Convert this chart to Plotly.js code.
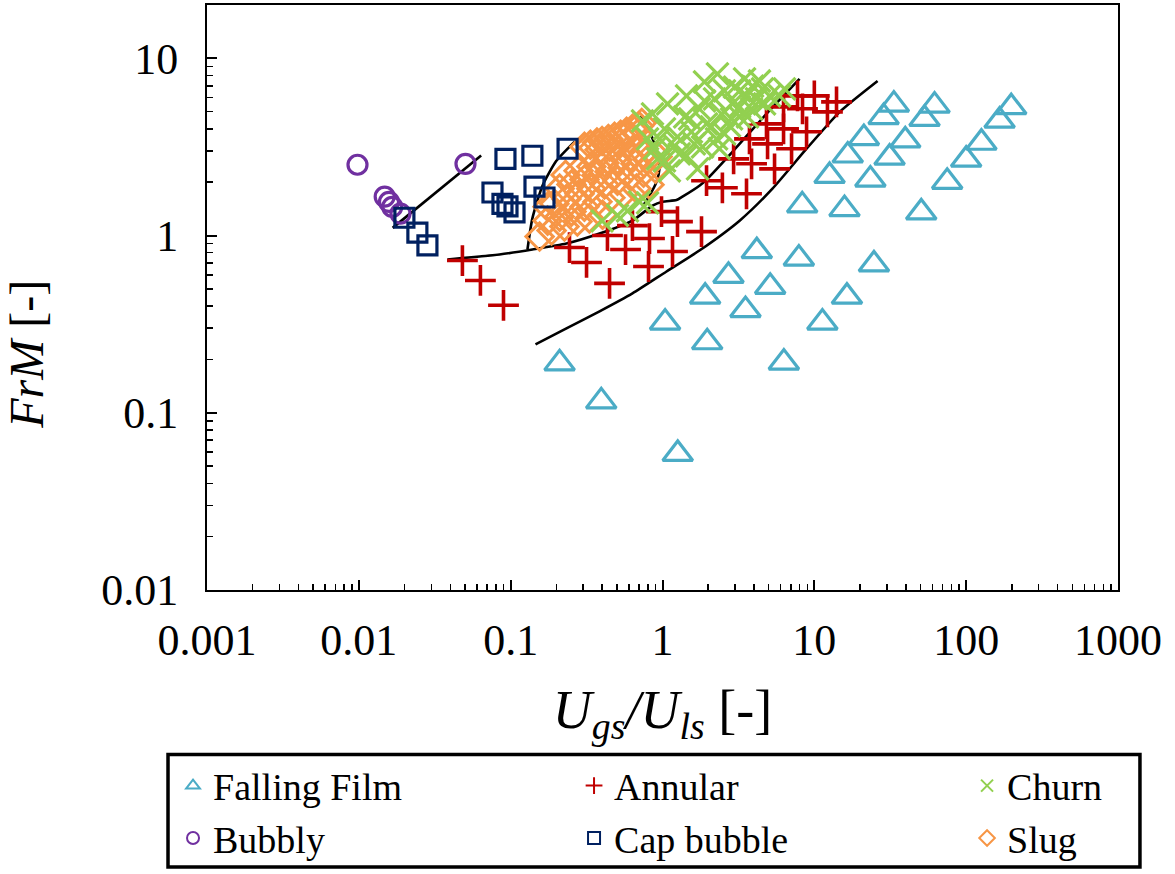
<!DOCTYPE html>
<html><head><meta charset="utf-8">
<script src="https://cdn.plot.ly/plotly-3.0.1.min.js"></script>
<style>html,body{margin:0;padding:0;background:#fff}#chart{width:1175px;height:874px}</style>
</head><body><div id="chart"></div>
<script>
// ---- data ----
const fallingFilmX = [0.21,0.395,1.26,1.04,1.91,1.97,2.72,4.18,3.52,5.12,6.30,7.91,11.3,16.4,24.7,33.4,28.6,61.9,53.2,198,166,21.2,39.7,16.6,31.3,12.6,23.4,8.32,15.8,50.6,75.0,100,126];
const fallingFilmY = [0.19,0.116,0.0586,0.323,0.452,0.250,0.593,0.816,0.380,0.514,0.192,0.742,0.323,0.452,0.687,5.48,4.66,5.41,4.55,5.30,4.45,3.55,3.44,2.83,2.75,2.17,2.07,1.48,1.41,1.35,2.01,2.68,3.34];

const annularX = [0.0481,0.0632,0.0897,0.244,0.316,0.448,0.434,0.571,0.634,0.821,0.809,0.985,1.255,1.164,1.807,1.95,2.48,3.575,2.94,3.86,5.47,3.74,4.92,7.08,4.84,6.27,8.89,6.27,8.36,12.2,7.75,10.0,14.0];
const annularY = [0.723,0.558,0.404,0.856,0.705,0.537,1.0,0.834,1.138,0.962,0.669,1.365,1.199,0.813,1.053,2.04,1.86,1.72,2.71,2.54,2.38,3.51,3.29,3.09,4.27,4.0,3.85,5.32,5.19,4.99,6.14,6.14,5.68];

const churnX = [0.738,0.859,1.08,1.44,1.89,2.30,2.89,3.22,3.58,3.92,4.56,5.07,3.86,3.22,2.76,2.45,2.27,1.95,1.835,1.55,1.255,1.20,1.44,1.70,1.11,0.927,0.955,1.03,1.40,1.75,2.20,2.56,2.98,3.47,4.35,4.16,4.70,2.56,2.10,1.62,1.29,1.51,1.89,0.797,0.885,1.03,0.797,0.706,0.40,0.505,0.588,3.22,3.63,2.37,2.85,5.90,6.36];
const churnY = [4.44,4.86,5.53,6.14,7.36,8.16,5.53,6.55,6.14,6.98,6.72,6.14,5.18,4.67,4.16,4.86,3.51,4.27,3.17,3.85,3.61,3.21,2.82,2.38,2.32,2.71,3.51,4.00,4.67,5.18,5.90,6.55,6.89,7.65,7.45,5.90,5.53,3.75,4.10,3.29,2.89,4.55,5.75,3.51,3.09,2.64,1.53,1.55,1.21,1.30,1.38,5.32,4.67,3.09,4.55,6.14,6.72];

const bubblyX = [0.0098,0.0148,0.0158,0.0166,0.0188,0.0504];
const bubblyY = [2.51,1.66,1.55,1.45,1.33,2.54];

const capX = [0.01996,0.0243,0.0283,0.0759,0.0883,0.0953,0.106,0.0924,0.139,0.237,0.1435,0.167];
const capY = [1.26,1.04,0.88,1.75,1.51,1.46,1.35,2.71,2.82,3.09,1.89,1.64];

const slugX = [0.306,0.335,0.37,0.40,0.44,0.483,0.53,0.58,0.635,0.70,0.73,0.33,0.385,0.448,0.52,0.606,0.685,
  0.155,0.186,0.226,0.275,0.330,0.403,
  0.175,0.210,0.2515,0.306,0.373,0.454,0.553,0.674,0.821,
  0.194,0.233,0.284,0.340,0.415,0.505,0.616,0.750,0.90,
  0.210,0.2515,0.306,0.367,0.448,0.545,0.664,0.797,0.927,
  0.23,0.28,0.340,0.415,0.505,0.616,0.750,0.175];
const slugY = [3.17,3.25,3.35,3.42,3.51,3.61,3.70,3.85,4.0,4.15,4.32,2.97,3.05,3.17,3.29,3.51,3.75,
  0.987,1.067,1.124,1.199,1.25,1.31,
  1.214,1.279,1.365,1.456,1.553,1.636,1.72,1.84,1.936,
  1.51,1.61,1.72,1.84,1.94,2.04,2.15,2.26,2.38,
  1.84,1.94,2.07,2.18,2.29,2.41,2.54,2.68,2.79,
  2.20,2.32,2.45,2.57,2.68,2.79,2.89,1.456];

// regime boundary curves
const b1X = [0.0167,0.0639];
const b1Y = [1.105,2.83];
const b2X = [0.0383,0.0844,0.139,0.233,0.385,0.634,0.859,1.0,1.236,1.354,1.75,1.95,2.89,4.84,7.99];
const b2Y = [0.733,0.782,0.834,0.901,1.026,1.214,1.475,1.553,1.585,1.657,1.91,2.07,2.97,4.86,7.65];
const b3X = [0.129,0.139,0.162,0.200,0.263];
const b3Y = [0.834,1.25,1.91,2.64,3.38];
const b4X = [0.716,0.784,0.872,0.941,0.955,0.913,0.821,0.738];
const b4Y = [4.73,4.21,3.42,2.79,2.38,2.01,1.68,1.456];
const b5X = [0.1457,0.233,0.385,0.634,1.063,1.75,3.22,5.30,8.89,14.7,26.1];
const b5Y = [0.2435,0.2997,0.3735,0.4717,0.627,0.823,1.214,1.84,3.09,4.99,7.45];

const xTickVals = [0.001,0.01,0.1,1,10,100,1000];
const xTickText = ['0.001','0.01','0.1','1','10','100','1000'];
const yTickVals = [0.01,0.1,1,10];
const yTickText = ['0.01','0.1','1','10'];

// ---- traces ----
const FONT = 'Liberation Serif';
function bline(x,y){return {x:x,y:y,type:'scatter',mode:'lines',line:{color:'#000',width:2.6,shape:'spline',smoothing:0.6},showlegend:false,hoverinfo:'skip'};}
function pts(name,x,y,sym,color,size,lw,lg,rank){
  return {name:name,x:x,y:y,type:'scatter',mode:'markers',legend:lg,legendrank:rank,
    marker:{symbol:sym,size:size,color:color,line:{color:color,width:lw}}};
}
const traces = [
  bline(b1X,b1Y), bline(b2X,b2Y), bline(b3X,b3Y), bline(b4X,b4Y), bline(b5X,b5Y),
  pts('Falling Film',fallingFilmX,fallingFilmY,'triangle-up-open','#4BACC6',26,3.2,'legend',1),
  pts('Annular',annularX,annularY,'cross-thin-open','#C00000',22,3.6,'legend2',1),
  pts('Slug',slugX,slugY,'diamond-open','#F79646',21,3,'legend3',2),
  pts('Churn',churnX,churnY,'x-thin-open','#92D050',22,3.2,'legend3',1),
  pts('Bubbly',bubblyX,bubblyY,'circle-open','#7030A0',19,3.2,'legend',2),
  pts('Cap bubble',capX,capY,'square-open','#002060',19,3.2,'legend2',2)
];

function legendAt(x){
  return {orientation:'v',x:x,xanchor:'left',y:-0.281,yanchor:'top',
    borderwidth:0,bgcolor:'rgba(0,0,0,0)',
    font:{family:FONT,size:38,color:'#000'},traceorder:'normal',itemsizing:'constant'};
}

const layout = {
  width:1175,height:874,
  margin:{l:207,r:57,t:5,b:282},
  paper_bgcolor:'#fff',plot_bgcolor:'#fff',
  font:{family:FONT,color:'#000',size:40},
  showlegend:true,
  legend:legendAt(-0.0373),
  legend2:legendAt(0.4029),
  legend3:legendAt(0.8343),
  shapes:[{type:'rect',xref:'paper',yref:'paper',x0:-0.0428,x1:1.0241,y0:-0.4736,y1:-0.2812,
    line:{color:'#000',width:3.5},fillcolor:'rgba(0,0,0,0)',layer:'above'}],
  annotations:[{text:'<i>FrM</i> [-]',xref:'paper',yref:'paper',x:-0.1976,y:0.4037,
    xanchor:'center',yanchor:'middle',textangle:-90,showarrow:false,font:{family:FONT,size:48,color:'#000'}}],
  xaxis:{type:'log',range:[-3,3],showgrid:false,zeroline:false,
    showline:true,linecolor:'#000',linewidth:2,mirror:true,
    ticks:'inside',ticklen:10,tickwidth:2,tickcolor:'#000',
    tickvals:xTickVals,ticktext:xTickText,tickfont:{family:FONT,size:44},ticklabelstandoff:10,
    minor:{ticks:'inside',ticklen:6,tickwidth:1.5,tickcolor:'#000',dtick:'D1',showgrid:false},
    title:{text:'<i>U</i><sub><i>gs</i></sub><i>/U</i><sub><i>ls</i></sub> [-]',font:{family:FONT,size:54},standoff:26}},
  yaxis:{type:'log',range:[-2,1.301],showgrid:false,zeroline:false,
    showline:true,linecolor:'#000',linewidth:2,mirror:true,
    ticks:'inside',ticklen:10,tickwidth:2,tickcolor:'#000',
    tickvals:yTickVals,ticktext:yTickText,tickfont:{family:FONT,size:44},ticklabelstandoff:18,
    minor:{ticks:'inside',ticklen:6,tickwidth:1.5,tickcolor:'#000',dtick:'D1',showgrid:false}}
};
Plotly.newPlot('chart',traces,layout,{displayModeBar:false,staticPlot:true});
</script></body></html>
